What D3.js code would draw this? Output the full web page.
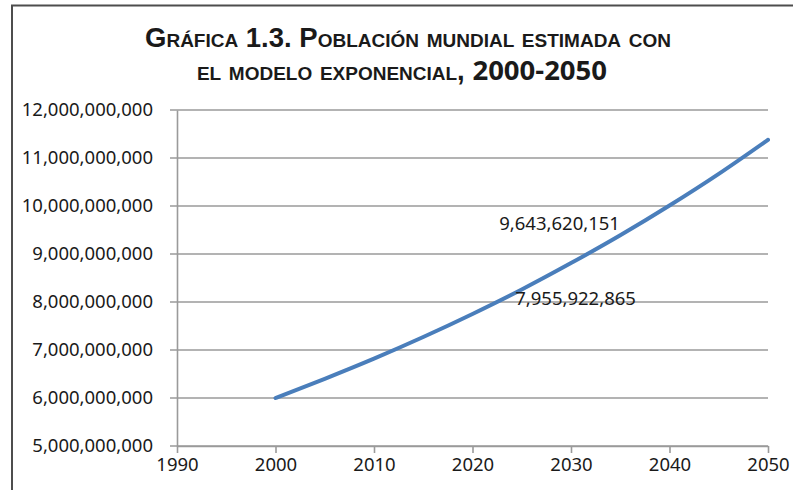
<!DOCTYPE html>
<html>
<head>
<meta charset="utf-8">
<script src="https://cdn.jsdelivr.net/npm/d3@7"></script>
<style>
  body { margin: 0; background: #fff; }
  svg { display: block; }
</style>
</head>
<body>
<div id="chart"></div>
<script>
// values (population, every 5 years)
const years = [2000, 2005, 2010, 2015, 2020, 2025, 2030, 2035, 2040, 2045, 2050];
const population = [6.00e9, 6.40e9, 6.82e9, 7.27e9, 7.75e9, 8.26e9, 8.81e9, 9.39e9, 10.01e9, 10.67e9, 11.38e9];
const xTicks = [1990, 2000, 2010, 2020, 2030, 2040, 2050];
const yTicks = [5e9, 6e9, 7e9, 8e9, 9e9, 10e9, 11e9, 12e9];
const labelYears = [2022, 2037];
const labelValues = [7955922865, 9643620151];

const W = 793, H = 490;
const margin = { top: 110, right: 25, bottom: 44, left: 177 };

const svg = d3.select('#chart').append('svg')
    .attr('width', W)
    .attr('height', H);

// outer frame (top + left visible)
svg.append('path')
    .attr('d', `M12,${H} L12,5.5 L${W},5.5`)
    .attr('fill', 'none')
    .attr('stroke', '#4d4d4d')
    .attr('stroke-width', 2);

// title
const title = svg.append('g')
    .attr('font-family', 'Liberation Sans, Arial, sans-serif')
    .attr('font-weight', 'bold')
    .attr('fill', '#1a1a1a')
    .attr('text-anchor', 'middle');
title.append('text')
    .attr('x', 408).attr('y', 47)
    .attr('font-size', 27.5)
    .style('font-variant', 'small-caps')
    .text('Gráfica 1.3. Población mundial estimada con');
const t2 = title.append('text')
    .attr('x', 402).attr('y', 80)
    .attr('font-size', 27.5);
t2.append('tspan').style('font-variant', 'small-caps').text('el modelo exponencial, ');
t2.append('tspan')
    .attr('font-family', 'Open Sans, sans-serif')
    .attr('font-size', 27.5)
    .text('2000-2050');

const x = d3.scaleLinear()
    .domain([1990, 2050])
    .range([margin.left, W - margin.right]);
const y = d3.scaleLinear()
    .domain([5e9, 12e9])
    .range([H - margin.bottom, margin.top]);

const fmt = d3.format(',');
const axisColor = '#9a9a9a';

// gridlines
svg.append('g')
    .selectAll('line')
    .data(yTicks)
    .join('line')
    .attr('x1', x(1990) - 7)
    .attr('x2', x(2050))
    .attr('y1', d => y(d))
    .attr('y2', d => y(d))
    .attr('stroke', axisColor)
    .attr('stroke-width', 1.6);

// y axis
const yAxis = svg.append('g')
    .attr('transform', `translate(${x(1990)},0)`)
    .call(d3.axisLeft(y).tickValues(yTicks).tickFormat(fmt).tickSize(0).tickPadding(24));
yAxis.select('.domain').attr('stroke', axisColor).attr('stroke-width', 1.6);
yAxis.selectAll('text')
    .attr('font-family', 'Noto Sans, sans-serif')
    .attr('font-size', 18.5)
    .attr('fill', '#1a1a1a');

// x axis
const xAxis = svg.append('g')
    .attr('transform', `translate(0,${y(5e9)})`)
    .call(d3.axisBottom(x).tickValues(xTicks).tickFormat(d3.format('d')).tickSize(7).tickSizeOuter(0).tickPadding(5));
xAxis.select('.domain').attr('stroke', axisColor).attr('stroke-width', 1.6);
xAxis.selectAll('.tick line').attr('stroke', axisColor).attr('stroke-width', 1.6);
xAxis.selectAll('text')
    .attr('font-family', 'Noto Sans, sans-serif')
    .attr('font-size', 18.5)
    .attr('fill', '#1a1a1a');

// curve
const line = d3.line()
    .x((d, i) => x(years[i]))
    .y(d => y(d))
    .curve(d3.curveMonotoneX);
svg.append('path')
    .datum(population)
    .attr('d', line)
    .attr('fill', 'none')
    .attr('stroke', '#4a7ebb')
    .attr('stroke-width', 4)
    .attr('stroke-linecap', 'round');

// data labels (placed by hand in the original, like Excel labels)
svg.append('g')
    .selectAll('text')
    .data(labelValues)
    .join('text')
    .attr('x', (d, i) => i === 0 ? x(labelYears[i]) + 23 : x(labelYears[i]) - 20)
    .attr('y', (d, i) => y(d) + (i === 0 ? 1 : 7))
    .attr('text-anchor', (d, i) => i === 0 ? 'start' : 'end')
    .attr('font-family', 'Noto Sans, sans-serif')
    .attr('font-size', 18.5)
    .attr('fill', '#1a1a1a')
    .text(d => fmt(d));
</script>
</body>
</html>
